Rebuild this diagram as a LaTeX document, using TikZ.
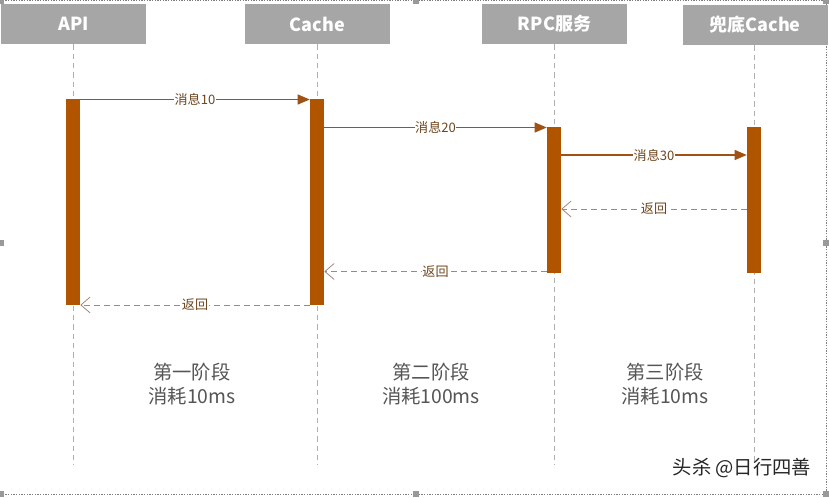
\documentclass[tikz,border=0pt]{standalone}
\usepackage{fontspec}
\setmainfont{Noto Sans CJK SC}
\usetikzlibrary{arrows.meta}
\definecolor{hdr}{RGB}{166,166,166}
\definecolor{bar}{RGB}{176,84,0}
\definecolor{msg}{RGB}{160,82,20}
\definecolor{ret}{RGB}{165,135,120}
\definecolor{lbl}{RGB}{110,70,30}
\definecolor{life}{RGB}{175,175,175}
\definecolor{stage}{RGB}{85,85,85}
\tikzset{
  hbox/.style={fill=hdr, draw=none, minimum width=145*0.75pt, minimum height=40*0.75pt, inner sep=0pt, text=white, font=\bfseries\fontsize{13.5}{15}\selectfont},
  abar/.style={fill=bar, draw=none, minimum width=14*0.75pt, inner sep=0pt},
  lifeline/.style={draw=life, line width=0.6pt, dash pattern=on 4pt off 3pt},
  msgline/.style={draw=msg, line width=0.8pt, -{Triangle[length=9pt,width=7.5pt]}},
  retline/.style={draw=ret, line width=0.7pt, dash pattern=on 4.5pt off 3pt, -{Straight Barb[length=7pt,width=12pt,line width=0.6pt]}},
  mlabel/.style={fill=white, inner sep=0.5pt, text=lbl, font=\fontsize{9.8}{11}\selectfont},
  stagetxt/.style={text=stage, align=center, font=\fontsize{14.5}{18}\selectfont},
  frame/.style={draw=gray, line width=0.5pt, dash pattern=on 1pt off 1pt},
  handle/.style={fill=gray!80, draw=none, minimum size=4pt, inner sep=0pt}
}
\begin{document}
\begin{tikzpicture}[x=0.75pt,y=-0.75pt]
\useasboundingbox (0,0) rectangle (829,498);
% selection frame
\draw[frame] (0,0.5) -- (826,0.5) -- (826,494) -- (0,494);
\foreach \p [count=\i] in {(1,1),(416,1),(826,1),(1,243),(826,243),(1,494),(416,494),(826,494)}
  \node[handle] (h\i) at \p {};
% headers
\node[hbox] (api) at (73.5,24) {API};
\node[hbox] (cache) at (317.5,24) {Cache};
\node[hbox] (rpc) at (554.5,24) {RPC服务};
\node[hbox] (fb) at (755,25) {兜底Cache};
% lifeline ends
\coordinate (e1) at (73,465);
\coordinate (e2) at (317,465);
\coordinate (e3) at (554,465);
\coordinate (e4) at (754,465);
\draw[lifeline] (api.south -| e1) -- (e1);
\draw[lifeline] (cache.south -| e2) -- (e2);
\draw[lifeline] (rpc.south -| e3) -- (e3);
\draw[lifeline] (fb.south -| e4) -- (e4);
% activation bars
\node[abar, minimum height=206*0.75pt] (b1) at (73,202) {};
\node[abar, minimum height=206*0.75pt] (b2) at (317,202) {};
\node[abar, minimum height=146*0.75pt] (b3) at (554,200) {};
\node[abar, minimum height=146*0.75pt] (b4) at (754,200) {};
% message rows
\coordinate (y1) at (0,99.5);
\coordinate (y2) at (0,127.5);
\coordinate (y3) at (0,155);
\coordinate (y4) at (0,209);
\coordinate (y5) at (0,271.5);
\coordinate (y6) at (0,305);
\draw[msgline] (b1.east |- y1) -- node[mlabel, pos=0.5] {消息10} (b2.west |- y1);
\draw[msgline] (b2.east |- y2) -- node[mlabel, pos=0.5] {消息20} (b3.west |- y2);
\draw[msgline] (b3.east |- y3) -- node[mlabel, pos=0.5] {消息30} (b4.west |- y3);
\draw[retline] (b4.west |- y4) -- node[mlabel, pos=0.5] {返回} (b3.east |- y4);
\draw[retline] (b3.west |- y5) -- node[mlabel, pos=0.5] {返回} (b2.east |- y5);
\draw[retline] (b2.west |- y6) -- node[mlabel, pos=0.5] {返回} (b1.east |- y6);
% stage texts
\node[stagetxt] (s1) at (192,384) {第一阶段\\消耗10ms};
\node[stagetxt] (s2) at (431,384) {第二阶段\\消耗100ms};
\node[stagetxt] (s3) at (665,384) {第三阶段\\消耗10ms};
% watermark
\node[font=\fontsize{14.5}{16}\selectfont, text=black!85, anchor=east] (wm) at (816,468) {头杀 @日行四善};
\end{tikzpicture}
\end{document}
